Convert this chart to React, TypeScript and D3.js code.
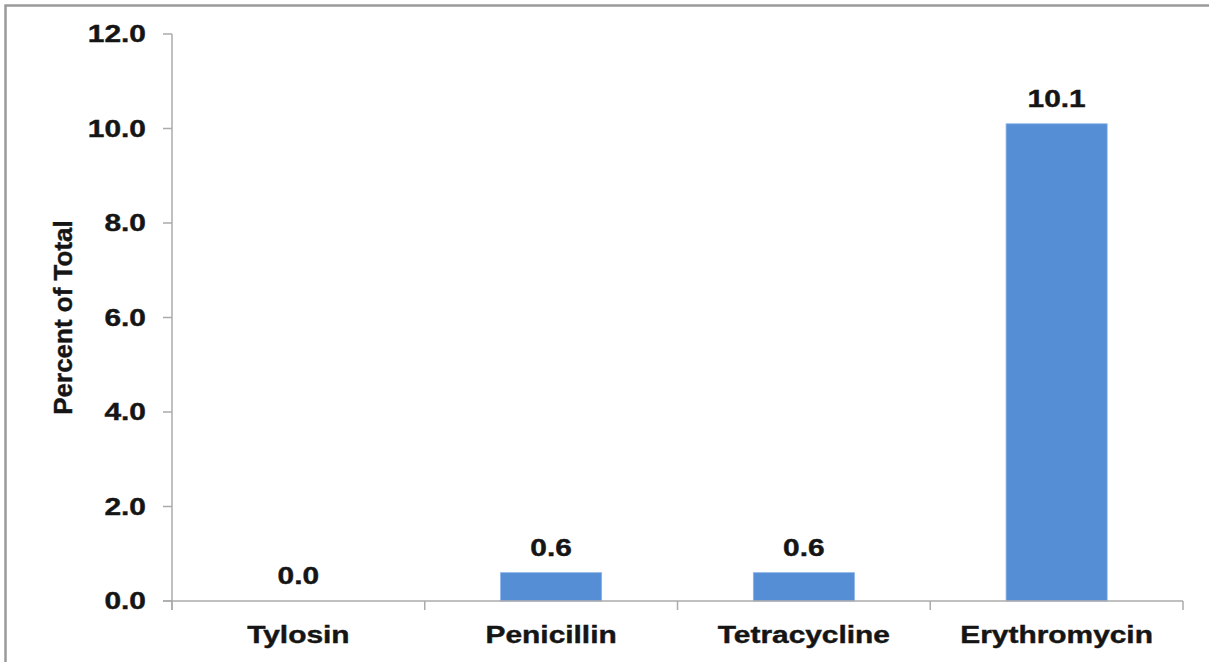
import React, { useRef, useEffect } from "react";
import * as d3 from "d3";

// Chart data
const drugs = ["Tylosin", "Penicillin", "Tetracycline", "Erythromycin"];
const percents = [0.0, 0.6, 0.6, 10.1];
const yTicks = [0, 2, 4, 6, 8, 10, 12];

const FONT = "'Liberation Sans', Arial, Helvetica, sans-serif";
const TEXT_COLOR = "#151515";
const AXIS_COLOR = "#ababab";
const BAR_COLOR = "#558ed5";
// the reference text looks stretched sideways
const SX = 1.3;

export default function App() {
    const svgRef = useRef<SVGSVGElement>(null);

    useEffect(() => {
        if (!svgRef.current) return;
        const svg = d3.select(svgRef.current);
        svg.selectAll("*").remove();

        const W = 1209;
        const H = 662;
        const plot = { left: 172, right: 1183, top: 34, bottom: 601 };

        svg.attr("width", W).attr("height", H);

        // white background + frame (only top/left edges visible in the crop)
        svg.append("rect").attr("x", 0).attr("y", 0).attr("width", W).attr("height", H).attr("fill", "#fff");
        svg.append("rect")
            .attr("x", 5.5).attr("y", 5.5)
            .attr("width", W + 20).attr("height", H + 20)
            .attr("fill", "none")
            .attr("stroke", "#9a9a9a")
            .attr("stroke-width", 2.5);

        // Scales
        const x = d3.scaleBand<string>()
            .domain(drugs)
            .range([plot.left, plot.right])
            .padding(0);

        const y = d3.scaleLinear()
            .domain([0, 12])
            .range([plot.bottom, plot.top]);

        const barW = x.bandwidth() * 0.4;

        // small helper for the heavy bold labels
        const label = (sel: d3.Selection<any, unknown, null, undefined>, size: number) =>
            sel.attr("font-family", FONT)
                .attr("font-weight", "bold")
                .attr("font-size", size)
                .attr("fill", TEXT_COLOR)
                .attr("stroke", TEXT_COLOR)
                .attr("stroke-width", 0.4);

        // Bars
        svg.append("g")
            .selectAll("rect")
            .data(drugs)
            .join("rect")
            .attr("x", d => (x(d) as number) + (x.bandwidth() - barW) / 2)
            .attr("y", (d, i) => y(percents[i]))
            .attr("width", barW)
            .attr("height", (d, i) => y(0) - y(percents[i]))
            .attr("fill", BAR_COLOR)
            .attr("stroke", "#8db4e8")
            .attr("stroke-width", 0.8);

        // Y axis
        const yAxis = svg.append("g");
        yAxis.append("line")
            .attr("x1", plot.left).attr("x2", plot.left)
            .attr("y1", y(12)).attr("y2", y(0) + 9)
            .attr("stroke", AXIS_COLOR).attr("stroke-width", 1.5);
        yTicks.forEach(t => {
            yAxis.append("line")
                .attr("x1", plot.left - 9).attr("x2", plot.left)
                .attr("y1", y(t)).attr("y2", y(t))
                .attr("stroke", AXIS_COLOR).attr("stroke-width", 1.5);
            label(yAxis.append("text"), 23)
                .attr("transform", `translate(${plot.left - 26},${y(t)}) scale(${SX},1)`)
                .attr("dy", "0.36em")
                .attr("text-anchor", "end")
                .text(t.toFixed(1));
        });

        // X axis
        const xAxis = svg.append("g");
        xAxis.append("line")
            .attr("x1", plot.left - 9).attr("x2", plot.right)
            .attr("y1", y(0)).attr("y2", y(0))
            .attr("stroke", AXIS_COLOR).attr("stroke-width", 1.5);
        const boundaries = drugs.map(d => x(d) as number).concat([plot.right]);
        boundaries.forEach(b => {
            xAxis.append("line")
                .attr("x1", b).attr("x2", b)
                .attr("y1", y(0)).attr("y2", y(0) + 9)
                .attr("stroke", AXIS_COLOR).attr("stroke-width", 1.5);
        });
        drugs.forEach(d => {
            label(xAxis.append("text"), 23)
                .attr("transform", `translate(${(x(d) as number) + x.bandwidth() / 2},${y(0) + 42}) scale(${SX},1)`)
                .attr("text-anchor", "middle")
                .text(d);
        });

        // Value labels
        drugs.forEach((d, i) => {
            label(svg.append("text"), 23)
                .attr("transform", `translate(${(x(d) as number) + x.bandwidth() / 2},${y(percents[i]) - 17}) scale(${SX},1)`)
                .attr("text-anchor", "middle")
                .text(percents[i].toFixed(1));
        });

        // Y axis title
        label(svg.append("text"), 26)
            .attr("transform", `translate(72,${(218 + 417) / 2}) rotate(-90)`)
            .attr("text-anchor", "middle")
            .text("Percent of Total");
    }, []);

    return (
        <svg ref={svgRef} style={{ position: "absolute", left: 0, top: 0, display: "block" }} />
    );
}
